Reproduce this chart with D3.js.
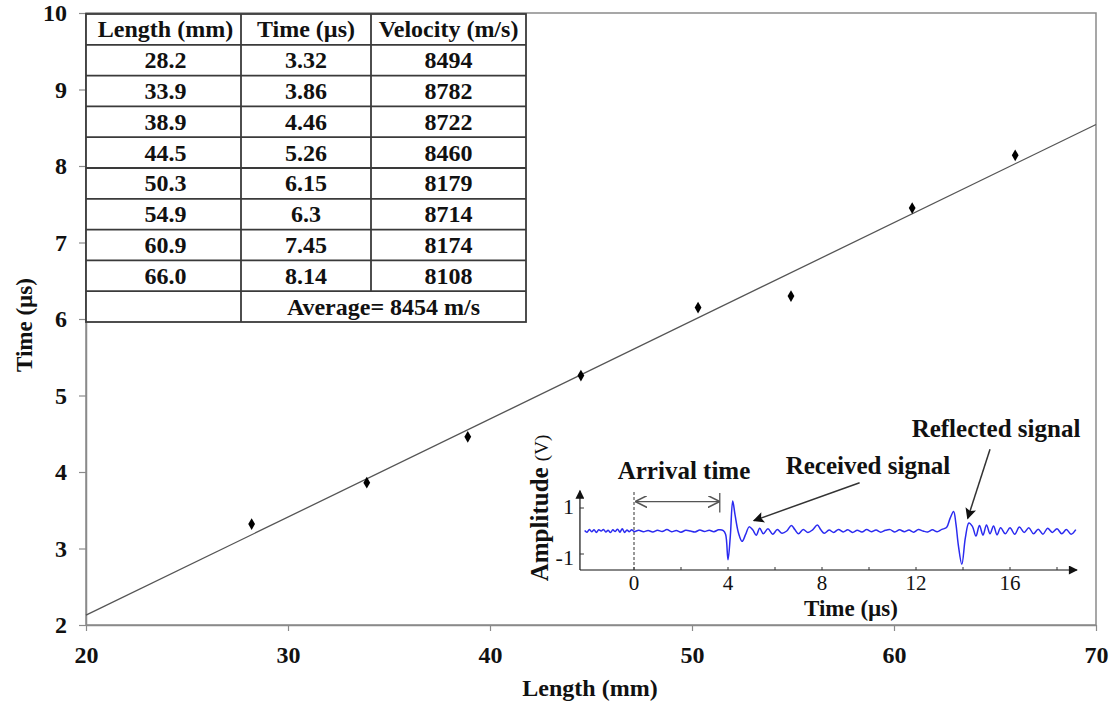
<!DOCTYPE html>
<html><head><meta charset="utf-8">
<script src="https://cdn.jsdelivr.net/npm/d3@7"></script>
<style>
html,body{margin:0;padding:0;background:#fff;}
text{font-family:"Liberation Serif","Times New Roman",serif;}
</style></head>
<body><svg id="c" width="1113" height="709"></svg>
<script>
// ---------- data ----------
const lengths = [28.2, 33.9, 38.9, 44.5, 50.3, 54.9, 60.9, 66.0];
const times   = [3.32, 3.86, 4.46, 5.26, 6.15, 6.3, 7.45, 8.14];
const velocityLabels = ["8494","8782","8722","8460","8179","8714","8174","8108"];
const lengthLabels = ["28.2","33.9","38.9","44.5","50.3","54.9","60.9","66.0"];
const timeLabels = ["3.32","3.86","4.46","5.26","6.15","6.3","7.45","8.14"];
const tableHeader = ["Length (mm)", "Time (\u00b5s)", "Velocity (m/s)"];
const averageLabel = "Average= 8454 m/s";
const xTicks = [20, 30, 40, 50, 60, 70];
const yTicks = [2, 3, 4, 5, 6, 7, 8, 9, 10];

// inset waveform (time µs, amplitude V)
const sigT = [-2.1,-2.0,-1.9,-1.8,-1.7,-1.6,-1.5,-1.4,-1.3,-1.2,-1.1,-1.0,-0.9,-0.8,-0.7,-0.6,-0.5,-0.4,-0.3,-0.2,-0.1,0,
  0.2,0.4,0.6,0.8,1.0,1.2,1.4,1.6,1.8,2.0,2.2,2.4,2.6,2.8,3.0,3.2,3.4,3.6,3.8,
  3.9,4.0,4.1,4.2,4.3,4.45,4.6,4.75,4.9,5.05,5.2,5.35,5.5,5.7,5.9,6.1,6.3,6.5,6.7,6.85,7.0,7.2,7.4,7.6,7.8,7.95,8.1,8.3,8.5,8.7,8.9,9.1,9.3,9.5,9.7,9.9,
  10.1,10.3,10.5,10.7,10.9,11.1,11.3,11.5,11.7,11.9,12.1,12.3,12.5,12.7,12.9,13.1,13.3,13.45,13.6,13.7,13.8,13.95,14.1,14.25,14.4,14.55,14.7,14.85,15.0,15.15,15.3,15.45,15.6,15.8,16.0,16.2,16.4,16.6,16.8,17.0,17.2,17.4,17.6,17.8,18.0,18.2,18.4,18.6,18.8];
const sigA = [0.02,-0.05,0.06,-0.03,0.05,-0.06,0.05,0.0,0.07,-0.04,0.03,-0.07,0.05,-0.02,0.08,-0.05,0.1,-0.06,0.04,-0.03,0.05,-0.02,
  0.03,-0.03,0.02,-0.04,0.03,-0.02,0.06,-0.03,0.02,-0.05,0.03,0.0,-0.04,0.04,-0.02,0.03,-0.03,0.05,0.02,
  -0.15,-1.25,-0.2,1.3,0.7,-0.1,-0.45,-0.15,0.18,0.05,-0.18,0.12,-0.12,0.1,-0.14,0.06,-0.1,0.0,0.24,0.05,-0.12,0.06,-0.06,0.05,0.26,0.05,-0.1,0.04,-0.06,0.07,-0.04,0.05,-0.06,0.03,-0.04,0.06,
  -0.03,0.04,-0.05,0.03,0.06,-0.04,0.05,-0.03,0.04,-0.05,0.06,0.0,-0.04,0.05,-0.03,0.07,0.15,0.55,0.85,0.3,-0.6,-1.45,-0.3,0.35,0.2,-0.22,0.24,-0.18,0.26,-0.12,0.22,-0.17,0.14,-0.12,0.14,-0.14,0.17,-0.06,0.14,-0.12,0.08,-0.14,0.12,-0.06,0.1,-0.12,0.06,-0.14,0.06];
const insetXTicks = [0, 4, 8, 12, 16];
const insetXMinor = [2, 6, 10, 14, 18];
const insetYTicks = [1, -1];

// ---------- main chart ----------
const svg = d3.select("#c");
const L = 86, R = 1096, T = 13, B = 625;
const x = d3.scaleLinear().domain([20, 70]).range([L, R]);
const y = d3.scaleLinear().domain([2, 10]).range([B, T]);
const axisGray = "#8a8a8a";
const FS = 24;

// frame
svg.append("rect").attr("x", L).attr("y", T).attr("width", R - L).attr("height", B - T)
  .attr("fill", "none").attr("stroke", axisGray).attr("stroke-width", 1.5);

// y axis ticks & labels
const yAxis = svg.append("g").attr("transform", `translate(${L},0)`)
  .call(d3.axisLeft(y).tickValues(yTicks).tickSize(7).tickSizeOuter(0).tickPadding(12));
yAxis.select(".domain").attr("stroke", axisGray).attr("stroke-width", 1.5);
yAxis.selectAll(".tick line").attr("stroke", axisGray).attr("stroke-width", 1.2);
yAxis.selectAll(".tick text").attr("font-family", "Liberation Serif").attr("font-size", FS)
  .attr("font-weight", "bold").attr("fill", "#111");

// x axis
const xAxis = svg.append("g").attr("transform", `translate(0,${B})`)
  .call(d3.axisBottom(x).tickValues(xTicks).tickSize(6).tickSizeOuter(0).tickPadding(15));
xAxis.select(".domain").attr("stroke", axisGray).attr("stroke-width", 1.5);
xAxis.selectAll(".tick line").attr("stroke", axisGray).attr("stroke-width", 1.2);
xAxis.selectAll(".tick text").attr("font-family", "Liberation Serif").attr("font-size", FS)
  .attr("font-weight", "bold").attr("fill", "#111");

// axis titles
svg.append("text").attr("x", 590).attr("y", 696).attr("text-anchor", "middle")
  .attr("font-size", FS).attr("font-weight", "bold").attr("fill", "#111").text("Length (mm)");
svg.append("text").attr("transform", `translate(32,${(T + B) / 2 + 6}) rotate(-90)`)
  .attr("text-anchor", "middle").attr("font-size", 23).attr("font-weight", "bold").attr("fill", "#111")
  .text("Time (\u00b5s)");

// regression line (least squares of the data)
const mx = d3.mean(lengths), my = d3.mean(times);
const sxy = d3.sum(lengths, (v, i) => (v - mx) * (times[i] - my));
const sxx = d3.sum(lengths, v => (v - mx) * (v - mx));
const slope = sxy / sxx, icpt = my - slope * mx;
svg.append("line").attr("x1", x(20)).attr("y1", y(icpt + slope * 20))
  .attr("x2", x(70)).attr("y2", y(icpt + slope * 70))
  .attr("stroke", "#555").attr("stroke-width", 1.3);

// points
svg.selectAll("path.pt").data(lengths).enter().append("path").attr("class", "pt")
  .attr("d", d3.symbol().type(d3.symbolDiamond).size(40))
  .attr("transform", (d, i) => `translate(${x(d)},${y(times[i])})`)
  .attr("fill", "#000");

// ---------- table ----------
const colX = [86, 241, 371, 526];
const tTop = 14, rowH = 30.8, nRows = 10;
const tg = svg.append("g");
tg.append("rect").attr("x", colX[0]).attr("y", tTop).attr("width", colX[3] - colX[0])
  .attr("height", rowH * nRows).attr("fill", "#fff").attr("stroke", "#3a3a3a").attr("stroke-width", 1.8);
for (let r = 1; r < nRows; r++) {
  tg.append("line").attr("x1", colX[0]).attr("x2", colX[3]).attr("y1", tTop + r * rowH).attr("y2", tTop + r * rowH)
    .attr("stroke", "#3a3a3a").attr("stroke-width", 1.8);
}
tg.append("line").attr("x1", colX[1]).attr("x2", colX[1]).attr("y1", tTop).attr("y2", tTop + nRows * rowH)
  .attr("stroke", "#3a3a3a").attr("stroke-width", 1.8);
tg.append("line").attr("x1", colX[2]).attr("x2", colX[2]).attr("y1", tTop).attr("y2", tTop + (nRows - 1) * rowH)
  .attr("stroke", "#3a3a3a").attr("stroke-width", 1.8);
const cellText = (cx, r, s) => tg.append("text").attr("x", cx).attr("y", tTop + r * rowH + rowH / 2 + 8)
  .attr("text-anchor", "middle").attr("font-size", FS).attr("font-weight", "bold").attr("fill", "#111").text(s);
const cx = [(colX[0] + colX[1]) / 2 + 2, (colX[1] + colX[2]) / 2, (colX[2] + colX[3]) / 2];
tableHeader.forEach((h, j) => cellText(cx[j], 0, h));
lengthLabels.forEach((v, i) => {
  cellText(cx[0], i + 1, v); cellText(cx[1], i + 1, timeLabels[i]); cellText(cx[2], i + 1, velocityLabels[i]);
});
cellText((colX[1] + colX[3]) / 2, 9, averageLabel);

// ---------- inset ----------
const ix = d3.scaleLinear().domain([0, 16]).range([634, 1010]);
const iy = d3.scaleLinear().domain([-1, 1]).range([554, 508]);
const ax0 = ix(-2.3), axY = 570;
const ig = svg.append("g");
const defs = svg.append("defs");
defs.append("marker").attr("id", "ah").attr("viewBox", "0 0 10 10").attr("refX", 9).attr("refY", 5)
  .attr("markerWidth", 12).attr("markerHeight", 9).attr("markerUnits", "userSpaceOnUse").attr("orient", "auto")
  .append("path").attr("d", "M0,0 L10,5 L0,10 Z").attr("fill", "#111");
defs.append("marker").attr("id", "ah2").attr("viewBox", "0 0 10 10").attr("refX", 9).attr("refY", 5)
  .attr("markerWidth", 14).attr("markerHeight", 11).attr("markerUnits", "userSpaceOnUse").attr("orient", "auto")
  .append("path").attr("d", "M0,0 L10,5 L0,10 L2,5 Z").attr("fill", "#111");
defs.append("marker").attr("id", "open").attr("viewBox", "0 0 10 10").attr("refX", 10).attr("refY", 5)
  .attr("markerWidth", 12).attr("markerHeight", 12).attr("markerUnits", "userSpaceOnUse").attr("orient", "auto-start-reverse")
  .append("path").attr("d", "M0,0 L10,5 L0,10").attr("fill", "none").attr("stroke", "#555").attr("stroke-width", 1.3);

// axes
ig.append("line").attr("x1", ax0).attr("x2", ix(18.85)).attr("y1", axY).attr("y2", axY)
  .attr("stroke", "#111").attr("stroke-width", 1.2).attr("marker-end", "url(#ah)");
ig.append("line").attr("x1", ax0).attr("x2", ax0).attr("y1", axY).attr("y2", iy(1.75))
  .attr("stroke", "#111").attr("stroke-width", 1.2).attr("marker-end", "url(#ah)");
insetXTicks.concat(insetXMinor).forEach(t => {
  ig.append("line").attr("x1", ix(t)).attr("x2", ix(t)).attr("y1", axY).attr("y2", axY - 3)
    .attr("stroke", "#333").attr("stroke-width", 1);
});
insetYTicks.forEach(a => {
  ig.append("line").attr("x1", ax0).attr("x2", ax0 + 4).attr("y1", iy(a)).attr("y2", iy(a))
    .attr("stroke", "#333").attr("stroke-width", 1);
  ig.append("text").attr("x", ax0 - 6).attr("y", iy(a) + (a < 0 ? 3 : -2)).attr("text-anchor", "end")
    .attr("font-size", 22).attr("fill", "#111").attr("dy", "0.35em").text(a);
});
insetXTicks.forEach(t => {
  ig.append("text").attr("x", ix(t)).attr("y", 590).attr("text-anchor", "middle")
    .attr("font-size", 21).attr("fill", "#111").text(t);
});
ig.append("text").attr("x", 851).attr("y", 616).attr("text-anchor", "middle")
  .attr("font-size", 23).attr("font-weight", "bold").attr("fill", "#111").text("Time (\u00b5s)");
const amp = ig.append("text").attr("transform", `translate(548,508) rotate(-90)`).attr("text-anchor", "middle")
  .attr("fill", "#111");
amp.append("tspan").attr("font-size", 25).attr("font-weight", "bold").text("Amplitude ");
amp.append("tspan").attr("font-size", 19).text("(V)");

// dashed zero line
ig.append("line").attr("x1", ix(0)).attr("x2", ix(0)).attr("y1", axY).attr("y2", iy(1.75))
  .attr("stroke", "#333").attr("stroke-width", 1).attr("stroke-dasharray", "3,2");

// signal
const sig = sigT.map((t, i) => [t, sigA[i]]);
ig.append("path").datum(sig)
  .attr("d", d3.line().x(d => ix(d[0])).y(d => iy(d[1])).curve(d3.curveCatmullRom))
  .attr("fill", "none").attr("stroke", "#2b2bf0").attr("stroke-width", 1.5);

// arrival-time double arrow
ig.append("line").attr("x1", ix(0.05)).attr("x2", ix(3.65)).attr("y1", iy(1.28)).attr("y2", iy(1.28))
  .attr("stroke", "#555").attr("stroke-width", 1.3)
  .attr("marker-start", "url(#open)").attr("marker-end", "url(#open)");
ig.append("line").attr("x1", ix(3.65)).attr("x2", ix(3.65)).attr("y1", iy(1.65)).attr("y2", iy(0.8))
  .attr("stroke", "#555").attr("stroke-width", 1.3);

// annotation arrows
ig.append("line").attr("x1", ix(9.6)).attr("y1", iy(2.1)).attr("x2", ix(5.1)).attr("y2", iy(0.45))
  .attr("stroke", "#333").attr("stroke-width", 1.5).attr("marker-end", "url(#ah2)");
ig.append("line").attr("x1", ix(15.15)).attr("y1", iy(3.55)).attr("x2", ix(14.2)).attr("y2", iy(0.55))
  .attr("stroke", "#333").attr("stroke-width", 1.5).attr("marker-end", "url(#ah2)");

// annotation texts
ig.append("text").attr("x", 684).attr("y", 479).attr("text-anchor", "middle")
  .attr("font-size", 25).attr("font-weight", "bold").attr("fill", "#111").text("Arrival time");
ig.append("text").attr("x", 868).attr("y", 474).attr("text-anchor", "middle")
  .attr("font-size", 25).attr("font-weight", "bold").attr("fill", "#111").text("Received signal");
ig.append("text").attr("x", 996).attr("y", 437).attr("text-anchor", "middle")
  .attr("font-size", 25).attr("font-weight", "bold").attr("fill", "#111").text("Reflected signal");
</script></body></html>
